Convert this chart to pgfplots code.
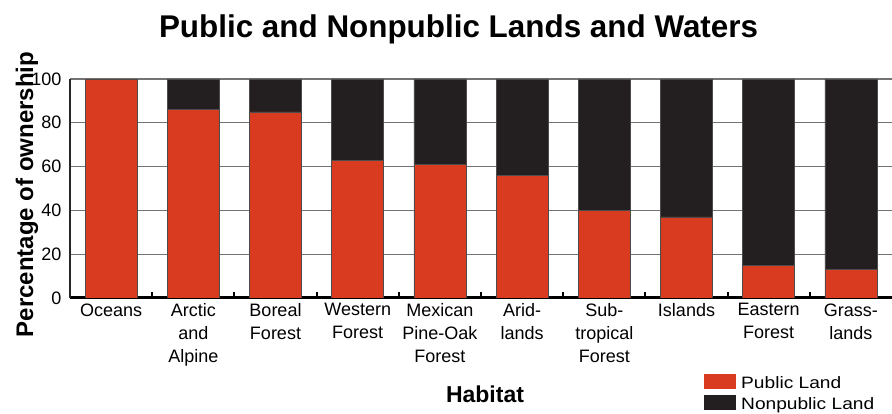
\documentclass[border=0pt]{standalone}
\usepackage{fontspec}
\setmainfont{Liberation Sans}
\newfontfamily\legfont[FakeStretch=1.16]{Liberation Sans}
\usepackage{pgfplots}
\usepackage{pgfplotstable}
\pgfplotsset{compat=1.18}
\definecolor{pubred}{RGB}{217,59,33}
\definecolor{nonblk}{RGB}{35,31,32}
\pgfplotstableread{
x pub non
0 100 0
1 86 14
2 85 15
3 63 37
4 61 39
5 56 44
6 40 60
7 37 63
8 15 85
9 13 87
}\datatable
\begin{document}
\begin{tikzpicture}[x=1pt,y=1pt]
\useasboundingbox (0,0) rectangle (892,414);
\begin{axis}[
  at={(70pt,116pt)}, anchor=south west,
  width=822pt, height=219pt, scale only axis,
  xmin=-0.5, xmax=9.5, ymin=0, ymax=100,
  ybar stacked, bar width=52pt,
  axis x line*=bottom, axis y line*=left,
  x axis line style={line width=3pt, black, -},
  y axis line style={line width=1.5pt, black!85, -},
  xtick={0,...,9},
  xticklabels={Oceans, Arctic\\and\\Alpine, Boreal\\Forest, Western\\Forest, Mexican\\Pine-Oak\\Forest, Arid-\\lands, Sub-\\tropical\\Forest, Islands, Eastern\\Forest, Grass-\\lands},
  xticklabel style={font=\fontsize{18}{23}\selectfont, align=center, anchor=north, yshift=-2pt},
  major x tick style={draw=none},
  minor xtick={0.5,1.5,...,8.5},
  minor x tick style={line width=2pt, black},
  minor tick length=6pt,
  tick align=inside,
  ytick={0,20,...,100},
  major y tick style={draw=none},
  yticklabel style={font=\fontsize{18}{22}\selectfont, xshift=-5pt},
  /pgf/number format/assume math mode=true,
  ymajorgrids, grid style={line width=1.3pt, black!55},
  legend style={at={(axis description cs:0.7713,0)}, anchor=north west, yshift=-76pt,
    draw=none, fill=none, inner sep=0pt, font=\legfont\fontsize{16.5}{20}\selectfont,
    row sep=4pt, column sep=5pt, nodes={inner sep=0pt, text height=12pt, text depth=3pt}},
  legend cell align=left,
  legend image code/.code={\fill[#1,draw=none] (0pt,-5.5pt) rectangle (32pt,9.5pt);},
]
\addplot[fill=pubred, draw=black!70, line width=0.6pt] table[x=x,y=pub]{\datatable};
\addlegendentry{Public Land}
\addplot[fill=nonblk, draw=black!70, line width=0.6pt] table[x=x,y=non]{\datatable};
\addlegendentry{Nonpublic Land}
\end{axis}
\node[font=\fontsize{31.4}{36}\selectfont\bfseries, anchor=base] at (458.5,376.3) {Public and Nonpublic Lands and Waters};
\node[font=\fontsize{24}{28}\selectfont\bfseries, anchor=base, rotate=90] at (33,219.5) {Percentage of ownership};
\node[font=\fontsize{23}{27}\selectfont\bfseries, anchor=base] at (485,11.3) {Habitat};
\end{tikzpicture}
\end{document}
